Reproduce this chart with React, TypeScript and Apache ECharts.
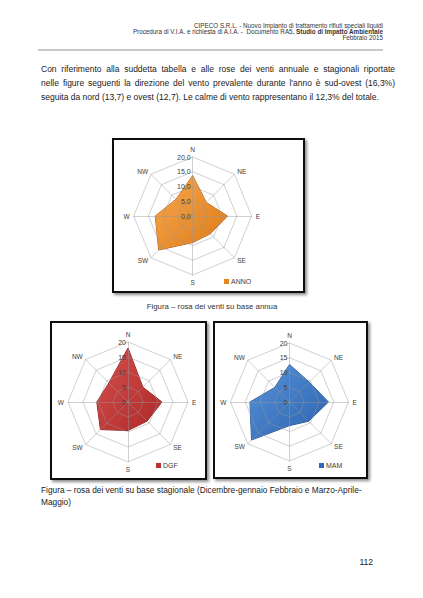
import React, { useEffect, useRef } from 'react';
import * as echarts from 'echarts';

const directions = ['N', 'NE', 'E', 'SE', 'S', 'SW', 'W', 'NW'];
const annoValues = [13.7, 6.5, 11.8, 8.5, 9.0, 16.3, 12.7, 8.0];
const dgfValues = [18.0, 7.0, 11.3, 9.0, 9.5, 13.0, 10.4, 9.0];
const mamValues = [12.7, 9.5, 13.2, 9.2, 8.0, 18.2, 13.4, 7.0];
const axisMin = 0;
const axisMax = 20;
const seriesNames = ['ANNO', 'DGF', 'MAM'];

// ECharts places radar indicators counter-clockwise; compass order is clockwise.
const order = [0, 7, 6, 5, 4, 3, 2, 1];
const ccw = <T,>(arr: T[]): T[] => order.map((i) => arr[i]);

const FONT = "'Liberation Sans', Arial, sans-serif";

function makeRadar(center: number[], radius: number, decimals: boolean) {
  return {
    z: 3,
    center,
    radius,
    startAngle: 90,
    shape: 'polygon',
    splitNumber: 4,
    indicator: ccw(directions).map((name, i) => ({
      name,
      min: axisMin,
      max: axisMax,
      ...(i === 0 ? { axisLabel: { show: true } } : {}),
    })),
    axisName: { color: '#404040', fontSize: 6.5, fontFamily: FONT },
    nameGap: 4,
    axisLine: { lineStyle: { color: 'rgba(150,150,150,0.45)', width: 1 } },
    splitLine: { lineStyle: { color: 'rgba(150,150,150,0.45)', width: 1 } },
    splitArea: { show: false },
    axisTick: { show: false },
    axisLabel: {
      show: false,
      fontSize: 7,
      color: '#404040',
      fontFamily: FONT,
      margin: 2,
      formatter: (v: number) => (decimals ? v.toFixed(1).replace('.', ',') : String(v)),
    },
  };
}

function grad(c1: string, c2: string) {
  return new echarts.graphic.LinearGradient(0, 0, 1, 1, [
    { offset: 0, color: c1 },
    { offset: 1, color: c2 },
  ]);
}

function makeSeries(idx: number, values: number[], main: string, light: string, dark: string, border: string) {
  return {
    type: 'radar',
    radarIndex: idx,
    name: seriesNames[idx],
    z: 1,
    symbol: 'none',
    silent: true,
    itemStyle: { color: main },
    lineStyle: { color: border, width: 1 },
    areaStyle: { color: grad(light, dark), opacity: 1 },
    data: [{ value: ccw(values), name: seriesNames[idx] }],
  };
}

function boxRect(x: number, y: number, w: number, h: number) {
  return {
    type: 'rect',
    shape: { x, y, width: w, height: h },
    style: {
      fill: '#fff',
      stroke: '#111',
      lineWidth: 2,
      shadowBlur: 3,
      shadowOffsetX: 2,
      shadowOffsetY: 2,
      shadowColor: 'rgba(0,0,0,0.45)',
    },
    z: -10,
  };
}

function legendAt(name: string, left: number, top: number) {
  return {
    data: [name],
    left,
    top,
    orient: 'horizontal',
    icon: 'rect',
    itemWidth: 5,
    itemHeight: 5,
    padding: 0,
    textStyle: { fontSize: 7, color: '#404040', fontFamily: FONT, padding: [0, 0, 0, -3] },
  };
}

export default function App() {
  const ref = useRef<HTMLDivElement>(null);
  useEffect(() => {
    if (!ref.current) return;
    const chart = echarts.init(ref.current, null, { renderer: 'svg' });
    chart.setOption({
      animation: false,
      backgroundColor: 'transparent',
      graphic: [boxRect(113, 139, 191, 153), boxRect(51, 322, 155, 157), boxRect(214, 322, 153, 156)],
      radar: [makeRadar([192.7, 216], 59, true), makeRadar([128, 402], 60, false), makeRadar([289.5, 402], 59, false)],
      legend: [legendAt('ANNO', 224, 278), legendAt('DGF', 156, 462), legendAt('MAM', 319, 462)],
      series: [
        makeSeries(0, annoValues, '#E8861F', '#F9A850', '#DD7A14', '#A8581A'),
        makeSeries(1, dgfValues, '#B83232', '#D85050', '#AD2828', '#7E1A1A'),
        makeSeries(2, mamValues, '#2F68B4', '#5592DA', '#2C62AC', '#1E4A86'),
      ],
    });
    return () => chart.dispose();
  }, []);

  const base: React.CSSProperties = { position: 'absolute', fontFamily: FONT, color: '#1a1a1a', whiteSpace: 'nowrap' };
  const just: React.CSSProperties = { textAlign: 'justify', textAlignLast: 'justify' } as React.CSSProperties;

  return (
    <div style={{ position: 'fixed', left: 0, top: 0, width: 423, height: 598, background: '#fff', overflow: 'hidden' }}>
      <div ref={ref} style={{ position: 'absolute', left: 0, top: 0, width: 423, height: 598 }} />
      <div style={{ ...base, right: 40, top: 23, fontSize: 6.3, lineHeight: '6.15px', textAlign: 'right', color: '#333' }}>
        <div>CIPECO S.R.L. - Nuovo Impianto di trattamento rifiuti speciali liquidi</div>
        <div>
          Procedura di V.I.A. e richiesta di A.I.A. -&nbsp; Documento RA5<b>. Studio di Impatto Ambientale</b>
        </div>
        <div>Febbraio 2015</div>
      </div>
      <div style={{ position: 'absolute', left: 38, top: 49, width: 345, height: 2, background: '#C8C8C8' }} />
      <div style={{ ...base, left: 41, top: 63, width: 354, fontSize: 8.5, lineHeight: '13.8px', whiteSpace: 'normal' }}>
        <div style={just}>Con riferimento alla suddetta tabella e alle rose dei venti annuale e stagionali riportate</div>
        <div style={just}>nelle figure seguenti la direzione del vento prevalente durante l'anno è sud-ovest (16,3%)</div>
        <div style={{ whiteSpace: 'nowrap' }}>seguita da nord (13,7) e ovest (12,7). Le calme di vento rappresentano il 12,3% del totale.</div>
      </div>
      <div style={{ ...base, left: 112, width: 200, top: 301, fontSize: 7.8, lineHeight: '12px', textAlign: 'center', color: '#333' }}>
        Figura – rosa dei venti su base annua
      </div>
      <div style={{ ...base, left: 41, top: 484, fontSize: 8.3, lineHeight: '12px' }}>
        Figura – rosa dei venti su base stagionale (Dicembre-gennaio Febbraio e Marzo-Aprile-
        <br />
        Maggio)
      </div>
      <div style={{ ...base, right: 50, top: 556, fontSize: 8.5, lineHeight: '12px', textAlign: 'right' }}>112</div>
    </div>
  );
}
